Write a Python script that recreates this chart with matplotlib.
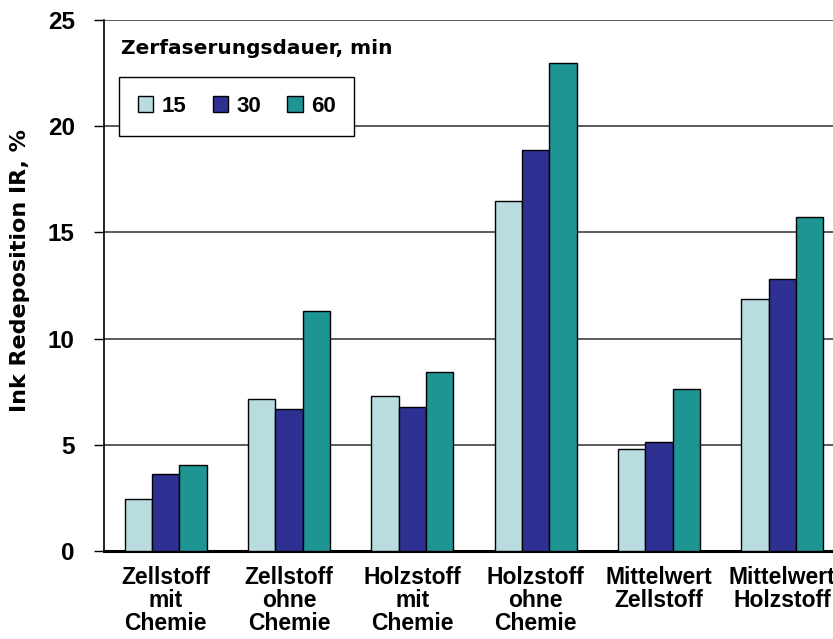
import matplotlib.pyplot as plt
import numpy as np

plt.rcParams['font.family'] = ['Liberation Sans', 'DejaVu Sans']
plt.rcParams['font.weight'] = 'bold'
plt.rcParams['axes.labelweight'] = 'bold'

categories = ["Zellstoff\nmit\nChemie", "Zellstoff\nohne\nChemie", "Holzstoff\nmit\nChemie",
              "Holzstoff\nohne\nChemie", "Mittelwert\nZellstoff", "Mittelwert\nHolzstoff"]
series_names = ["15", "30", "60"]
ir_15 = [2.43, 7.14, 7.28, 16.48, 4.82, 11.88]
ir_30 = [3.61, 6.70, 6.78, 18.88, 5.12, 12.82]
ir_60 = [4.05, 11.30, 8.43, 22.98, 7.64, 15.73]
colors = ["#B8DCE0", "#2E3192", "#1F9593"]

fig = plt.figure(figsize=(8.33, 6.39), dpi=100)
# plot area runs past the right edge of the picture, as in the original
ax = fig.add_axes([104 / 833, 1 - 551 / 639, 740 / 833, 531 / 639])

x = np.arange(len(categories))
w = 0.222
for i, vals in enumerate([ir_15, ir_30, ir_60]):
    ax.bar(x + (i - 1) * w, vals, w, color=colors[i], edgecolor="black",
           linewidth=1.0, label=series_names[i], zorder=3)

ax.set_xlim(-0.5, len(categories) - 0.5)
ax.set_ylim(0, 25)
ax.set_yticks([0, 5, 10, 15, 20, 25])
ax.yaxis.grid(True, color="#404040", linewidth=1.2, zorder=0)
ax.set_xticks(x)
ax.set_xticklabels(categories, fontsize=16.5, linespacing=1.0)
ax.tick_params(axis="x", length=0, pad=11)
ax.tick_params(axis="y", labelsize=17.5, length=7, direction="out", width=1, pad=14)

for s in ["top", "right"]:
    ax.spines[s].set_visible(False)
ax.spines["left"].set_linewidth(1.2)
ax.spines["bottom"].set_linewidth(2.2)

ax.set_ylabel("Ink Redeposition IR, %", fontsize=16, family="DejaVu Sans")
ax.yaxis.set_label_coords(30 / 833, 1 - 271 / 639, transform=fig.transFigure)

ax.text(121 / 833, 1 - 49 / 639, "Zerfaserungsdauer, min", transform=fig.transFigure,
        fontsize=14.5, va="center", ha="left", family="DejaVu Sans")
leg = ax.legend(loc="upper left", bbox_to_anchor=(119 / 833, 1 - 77 / 639),
                bbox_transform=fig.transFigure, ncol=3, fontsize=16, frameon=True,
                fancybox=False, edgecolor="black", framealpha=1, handlelength=0.7,
                handleheight=0.7, handletextpad=0.35, columnspacing=1.2,
                borderpad=0.85, borderaxespad=0)
leg.get_frame().set_linewidth(1.0)
leg.set_zorder(5)

fig.savefig("out.png", dpi=100)
